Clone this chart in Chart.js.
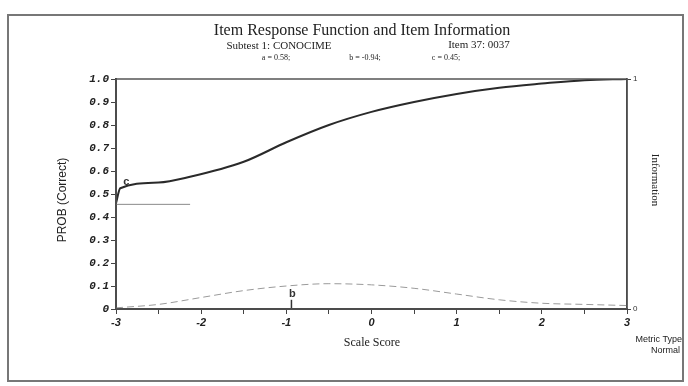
<!DOCTYPE html>
<html>
<head>
<meta charset="utf-8">
<script src="https://cdn.jsdelivr.net/npm/chart.js@4/dist/chart.umd.min.js"></script>
<style>
  html, body { margin: 0; padding: 0; background: #fff; }
  #wrap { width: 688px; height: 386px; position: relative; }
</style>
</head>
<body>
<div id="wrap"><canvas id="irf"></canvas></div>
<script>
// item response curve
const iccTheta = [-3, -2.95, -2.5, -2.13, -1.5, -1, -0.5, 0, 0.5, 1, 1.5, 2, 2.5, 3];
const iccProb = [0.46, 0.525, 0.55, 0.575, 0.64, 0.725, 0.80, 0.857, 0.90, 0.935, 0.962, 0.98, 0.995, 1.0];

// item information (right axis)
const infoTheta = [-3, -2.5, -2, -1.5, -1, -0.5, 0, 0.5, 1, 1.5, 2, 2.5, 3];
const infoValue = [0.005, 0.02, 0.05, 0.08, 0.10, 0.11, 0.105, 0.09, 0.065, 0.04, 0.025, 0.02, 0.015];

// guessing (c) line and difficulty (b) marker
const cTheta = [-3, -2.13];
const cLevel = [0.455, 0.455];
const bTheta = [-0.94, -0.94];
const bLevel = [0, 0.04];

const xTickLabels = ["-3", "-2", "-1", "0", "1", "2", "3"];

const pts = (xs, ys) => xs.map((x, i) => ({ x: x, y: ys[i] }));

// draws the frame, the titles and the b / c letters
const decorations = {
  id: "decorations",
  afterDraw(chart) {
    const ctx = chart.ctx;
    const a = chart.chartArea;
    const xs = chart.scales.x;
    const ys = chart.scales.y;
    ctx.save();
    ctx.strokeStyle = "#555";
    ctx.lineWidth = 1.5;
    ctx.strokeRect(a.left, a.top, a.right - a.left, a.bottom - a.top);
    ctx.strokeStyle = "#777";
    ctx.lineWidth = 2;
    ctx.strokeRect(8, 15, 675, 366);

    ctx.fillStyle = "#222";
    ctx.textAlign = "center";
    ctx.textBaseline = "alphabetic";
    ctx.font = "16px 'Liberation Serif'";
    ctx.fillText("Item Response Function and Item Information", 362, 35);
    ctx.font = "11px 'Liberation Serif'";
    ctx.fillText("Subtest 1: CONOCIME", 279, 49);
    ctx.fillText("Item 37: 0037", 479, 48);
    ctx.font = "8px 'Liberation Serif'";
    ctx.fillText("a = 0.58;", 276, 60);
    ctx.fillText("b = -0.94;", 365, 60);
    ctx.fillText("c = 0.45;", 446, 60);

    ctx.font = "12px 'Liberation Serif'";
    ctx.fillText("Scale Score", 372, 346);

    ctx.font = "9px 'Liberation Sans Narrow', 'Liberation Sans'";
    ctx.textAlign = "right";
    ctx.fillText("Metric Type", 682, 342);
    ctx.fillText("Normal", 680, 353);

    ctx.textAlign = "center";
    ctx.save();
    ctx.translate(66, 200);
    ctx.rotate(-Math.PI / 2);
    ctx.font = "12px 'Liberation Sans Narrow', 'Liberation Sans'";
    ctx.fillText("PROB (Correct)", 0, 0);
    ctx.restore();
    ctx.save();
    ctx.translate(652, 180);
    ctx.rotate(Math.PI / 2);
    ctx.font = "11px 'Liberation Serif'";
    ctx.fillText("Information", 0, 0);
    ctx.restore();

    // letters next to the markers
    ctx.font = "bold 11px 'Liberation Sans'";
    ctx.fillStyle = "#333";
    ctx.fillText("c", xs.getPixelForValue(iccTheta[1]) + 6, ys.getPixelForValue(iccProb[1]) - 3);
    ctx.fillText("b", xs.getPixelForValue(bTheta[1]) + 1, ys.getPixelForValue(bLevel[1]) - 3);
    ctx.restore();
  }
};

new Chart(document.getElementById("irf").getContext("2d"), {
  type: "line",
  data: {
    datasets: [
      {
        label: "ICC",
        data: pts(iccTheta, iccProb),
        borderColor: "#2a2a2a",
        borderWidth: 2,
        pointRadius: 0,
        cubicInterpolationMode: "monotone",
        yAxisID: "y",
      },
      {
        label: "Information",
        data: pts(infoTheta, infoValue),
        borderColor: "#9a9a9a",
        borderWidth: 1,
        borderDash: [7, 4],
        pointRadius: 0,
        cubicInterpolationMode: "monotone",
        yAxisID: "y1",
      },
      {
        label: "c",
        data: pts(cTheta, cLevel),
        borderColor: "#8a8a8a",
        borderWidth: 1,
        pointRadius: 0,
        yAxisID: "y",
      },
      {
        label: "b",
        data: pts(bTheta, bLevel),
        borderColor: "#333",
        borderWidth: 1.5,
        pointRadius: 0,
        yAxisID: "y",
      },
    ],
  },
  options: {
    responsive: true,
    maintainAspectRatio: false,
    animation: false,
    layout: { padding: { top: 79, left: 0, right: 0, bottom: 0 } },
    plugins: { legend: { display: false }, tooltip: { enabled: false } },
    scales: {
      x: {
        type: "linear",
        min: -3,
        max: 3,
        afterFit: (s) => { s.height = 77; },
        afterBuildTicks: (s) => {
          s.ticks = [];
          for (let i = 0; i <= 12; i++) s.ticks.push({ value: -3 + i * 0.5 });
        },
        ticks: {
          color: "#222",
          font: { family: "Liberation Sans", size: 11, style: "italic", weight: "bold" },
          maxRotation: 0,
          autoSkip: false,
          padding: 2,
          callback: (v) => (Number.isInteger(v) ? xTickLabels[v + 3] : ""),
        },
        grid: { drawOnChartArea: false, drawTicks: true, tickLength: 5, color: "#444" },
        border: { color: "#333", width: 2 },
      },
      y: {
        min: 0,
        max: 1,
        afterFit: (s) => { s.width = 116; },
        ticks: {
          stepSize: 0.1,
          color: "#222",
          padding: 2,
          font: { family: "Liberation Mono", size: 11, style: "italic", weight: "bold" },
          callback: (v) => (v === 0 ? "0" : v === 1 ? "1.0" : v.toFixed(1)),
        },
        grid: { drawOnChartArea: false, drawTicks: true, tickLength: 5, color: "#444" },
        border: { color: "#333", width: 2 },
      },
      y1: {
        position: "right",
        min: 0,
        max: 1,
        afterFit: (s) => { s.width = 61; },
        ticks: {
          stepSize: 1,
          color: "#333",
          padding: 2,
          font: { family: "Liberation Sans", size: 8 },
        },
        grid: { drawOnChartArea: false, drawTicks: true, tickLength: 4, color: "#444" },
        border: { color: "#333", width: 1.5 },
      },
    },
  },
  plugins: [decorations],
});
</script>
</body>
</html>
